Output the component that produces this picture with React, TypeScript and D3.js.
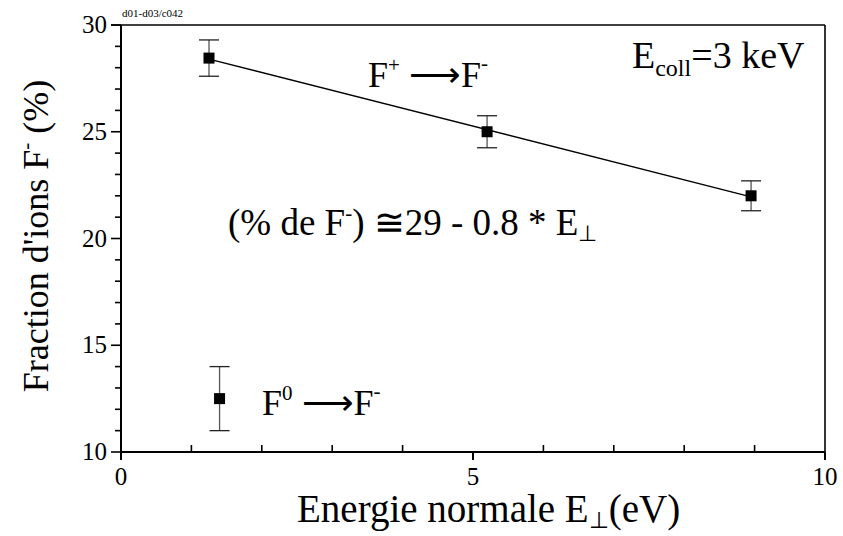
import React from "react";
import * as d3 from "d3";

const W = 843;
const H = 536;
const M = { left: 121, top: 25, right: 18, bottom: 84 };

// F+ -> F- series
const plusX = [1.25, 5.2, 8.95];
const plusY = [28.45, 25.0, 22.0];
const plusErr = [0.85, 0.75, 0.7];

// F0 -> F- series
const zeroX = [1.4];
const zeroY = [12.5];
const zeroErr = [1.5];

const xMajor = [0, 5, 10];
const xMinor = [1, 2, 3, 4, 6, 7, 8, 9];
const yMajor = [10, 15, 20, 25, 30];
const yMinor = [11, 12, 13, 14, 16, 17, 18, 19, 21, 22, 23, 24, 26, 27, 28, 29];

const FF = "Liberation Serif";

export default function App() {
  const x = d3.scaleLinear().domain([0, 10]).range([M.left, W - M.right]);
  const y = d3.scaleLinear().domain([10, 30]).range([H - M.bottom, M.top]);
  const x0 = M.left;
  const x1 = W - M.right;
  const y0 = H - M.bottom;
  const y1 = M.top;

  // least-squares fit line of F+ series
  const mx = d3.mean(plusX)!;
  const my = d3.mean(plusY)!;
  const sxy = d3.sum(plusX.map((v, i) => (v - mx) * (plusY[i] - my)));
  const sxx = d3.sum(plusX.map((v) => (v - mx) * (v - mx)));
  const slope = sxy / sxx;
  const icpt = my - slope * mx;
  const fitXs = [d3.min(plusX)!, d3.max(plusX)!];
  const line = d3
    .line<number>()
    .x((d) => x(d))
    .y((d) => y(icpt + slope * d));

  const renderPoints = (xs: number[], ys: number[], es: number[], key: string) =>
    xs.map((xv, i) => {
      const cx = x(xv);
      const cy = y(ys[i]);
      const top = y(ys[i] + es[i]);
      const bot = y(ys[i] - es[i]);
      return (
        <g key={key + i}>
          <line x1={cx} x2={cx} y1={top} y2={bot} stroke="#555" strokeWidth={1.3} />
          <line x1={cx - 10} x2={cx + 10} y1={top} y2={top} stroke="#222" strokeWidth={1.3} />
          <line x1={cx - 10} x2={cx + 10} y1={bot} y2={bot} stroke="#222" strokeWidth={1.3} />
          <rect x={cx - 5.5} y={cy - 5.5} width={11} height={11} fill="#000" />
        </g>
      );
    });

  return (
    <svg width={W} height={H} style={{ position: "absolute", left: 0, top: 0, background: "#fff" }}>
      <rect x={0} y={0} width={W} height={H} fill="#fff" />
      {/* frame */}
      <line x1={x0 - 10} x2={x1} y1={y1} y2={y1} stroke="#000" strokeWidth={1.6} />
      <line x1={x1} x2={x1} y1={y1} y2={y0} stroke="#000" strokeWidth={1.6} />
      <line x1={x0} x2={x0} y1={y1} y2={y0 + 8} stroke="#000" strokeWidth={2} />
      <line x1={x0} x2={x1} y1={y0} y2={y0} stroke="#000" strokeWidth={2} />

      {/* y ticks */}
      {yMajor.map((v) => (
        <g key={"ym" + v}>
          <line x1={x0 - 10} x2={x0} y1={y(v)} y2={y(v)} stroke="#000" strokeWidth={1.6} />
          <text x={x0 - 14} y={y(v) + 8} fontSize={25} textAnchor="end" fontFamily={FF}>
            {v}
          </text>
        </g>
      ))}
      {yMinor.map((v) => (
        <line key={"yn" + v} x1={x0 - 6} x2={x0} y1={y(v)} y2={y(v)} stroke="#000" strokeWidth={1.6} />
      ))}

      {/* x ticks */}
      {xMajor.map((v) => (
        <g key={"xm" + v}>
          <line x1={x(v)} x2={x(v)} y1={y0} y2={y0 + 8} stroke="#000" strokeWidth={2} />
          <text x={x(v)} y={y0 + 33} fontSize={25} textAnchor="middle" fontFamily={FF}>
            {v}
          </text>
        </g>
      ))}
      {xMinor.map((v) => (
        <line key={"xn" + v} x1={x(v)} x2={x(v)} y1={y0} y2={y0 - 7} stroke="#000" strokeWidth={1.6} />
      ))}

      {/* fit line */}
      <path d={line(fitXs)!} fill="none" stroke="#000" strokeWidth={1.4} />

      {renderPoints(plusX, plusY, plusErr, "p")}
      {renderPoints(zeroX, zeroY, zeroErr, "z")}

      {/* annotations */}
      <text x={122} y={17} fontSize={11} fontFamily={FF}>d01-d03/c042</text>

      <text x={632} y={68} fontSize={38} fontFamily={FF}>
        E<tspan fontSize={24} dy={8}>coll</tspan>
        <tspan dy={-8}>=3 keV</tspan>
      </text>

      <text x={368} y={87} fontSize={36} fontFamily={FF}>
        F<tspan fontSize={21} dy={-15}>+</tspan>
        <tspan dy={15}> ⟶F</tspan>
        <tspan fontSize={21} dy={-17}>-</tspan>
      </text>

      <text x={228} y={235} fontSize={37} fontFamily={FF}>
        (% de F<tspan fontSize={21} dy={-15}>-</tspan>
        <tspan dy={15}>) ≅29 - 0.8 * E</tspan>
        <tspan fontSize={22} dy={6}>⊥</tspan>
      </text>

      <text x={262} y={415} fontSize={36} fontFamily={FF}>
        F<tspan fontSize={21} dy={-15}>0</tspan>
        <tspan dy={15}> ⟶F</tspan>
        <tspan fontSize={21} dy={-17}>-</tspan>
      </text>

      {/* axis titles */}
      <text x={297} y={522} fontSize={39} fontFamily={FF}>
        Energie normale E<tspan fontSize={23} dy={6}>⊥</tspan>
        <tspan dy={-6}>(eV)</tspan>
      </text>

      <text transform="translate(48,236) rotate(-90)" fontSize={36} textAnchor="middle" fontFamily={FF}>
        Fraction d'ions F<tspan fontSize={21} dy={-15}>-</tspan>
        <tspan dy={15}> (%)</tspan>
      </text>
    </svg>
  );
}
